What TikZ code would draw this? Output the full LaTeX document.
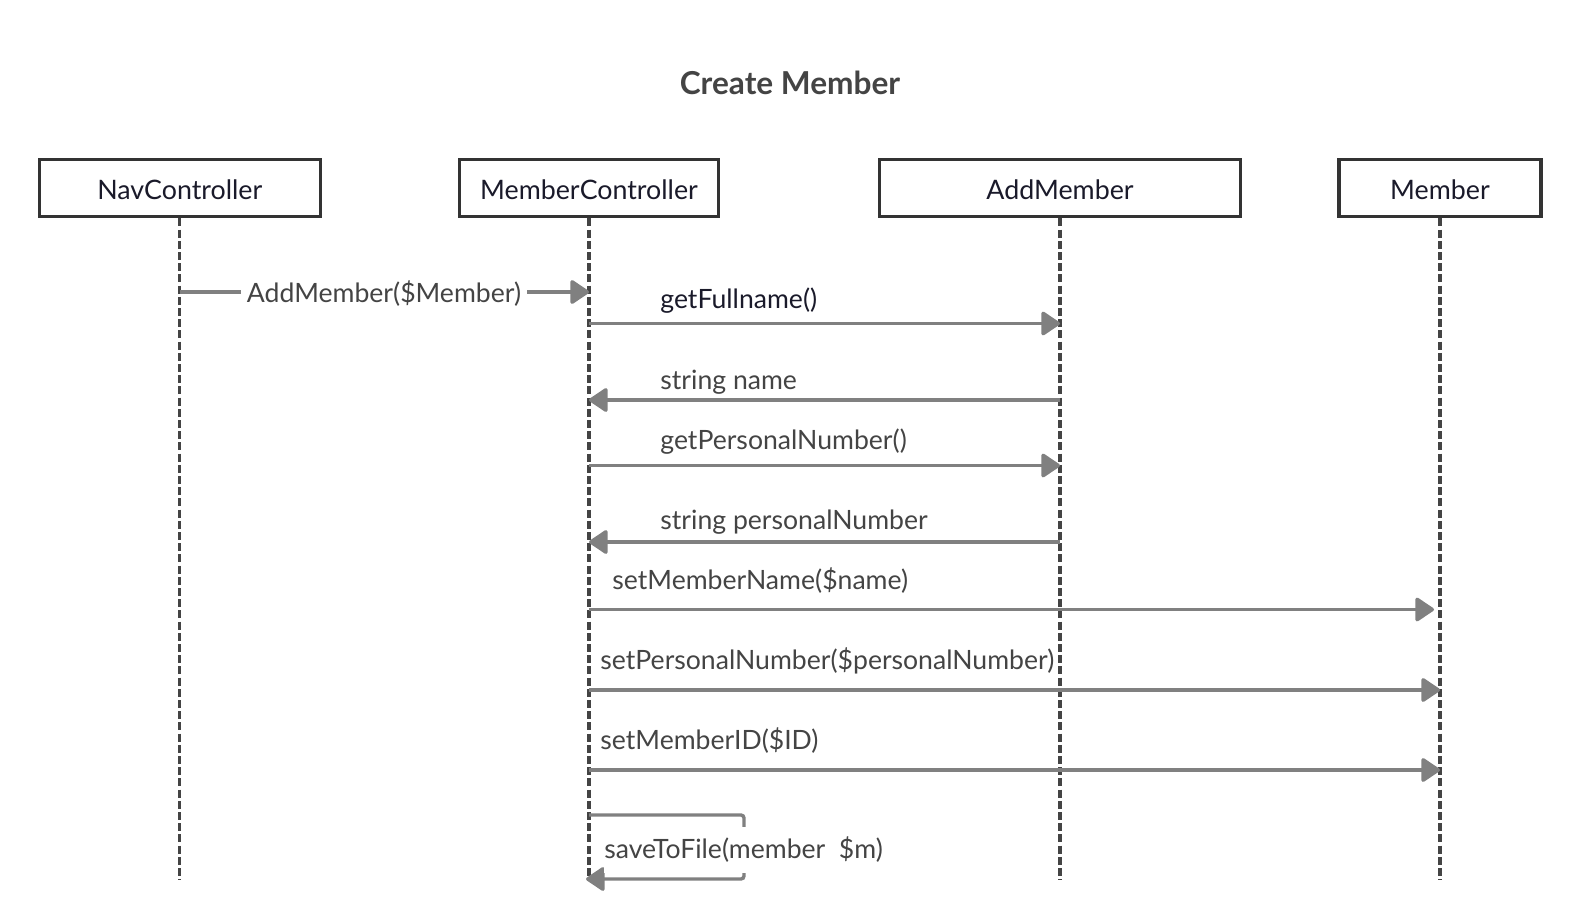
\documentclass[tikz,border=0pt]{standalone}
\usepackage{fontspec}
\setmainfont{Lato}
\usetikzlibrary{arrows.meta}
\definecolor{boxline}{HTML}{333333}
\definecolor{lifeln}{HTML}{444444}
\definecolor{arrowc}{HTML}{808080}
\definecolor{labelc}{HTML}{444444}
\definecolor{namec}{HTML}{1A1A2A}
\tikzset{
  actor/.style={draw=boxline, line width=1.6pt, fill=white, minimum height=28.8pt, inner sep=0pt, text=namec, text height=11.6pt, text depth=0pt, font=\fontsize{13.4}{16}\selectfont},
  life/.style={draw=lifeln, line width=1.6pt, dash pattern=on 4pt off 1.6pt},
  msg/.style={draw=arrowc, line width=1.7pt, -{Triangle[length=10pt,width=13pt,round]}},
  plain/.style={draw=arrowc, line width=1.7pt},
  lbl/.style={text=labelc, font=\fontsize{13.3}{16}\selectfont, inner sep=0pt, anchor=west},
}
\begin{document}
\begin{tikzpicture}[x=0.5pt,y=-0.5pt]
\useasboundingbox (0,0) rectangle (1580,920);
\node[font=\bfseries\fontsize{15.8}{19}\selectfont, text=labelc] (title) at (790,83) {Create Member};
% actors
\node[actor, minimum width=140.5pt] (nav) at (179.8,188) {NavController};
\node[actor, minimum width=129.5pt] (mc) at (589,188) {MemberController};
\node[actor, minimum width=180.4pt] (am) at (1060,188) {AddMember};
\node[actor, minimum width=101pt] (mem) at (1440,188) {Member};
% lifeline ends
\coordinate (navE) at (179.8,880);
\coordinate (mcE) at (589,880);
\coordinate (amE) at (1060,880);
\coordinate (memE) at (1440,880);
\draw[life] (nav.south) -- (navE);
\draw[life] (mc.south) -- (mcE);
\draw[life] (am.south) -- (amE);
\draw[life] (mem.south) -- (memE);
% message 1
\coordinate (n1) at (179.8,292);
\coordinate (m1) at (589,292);
\node[lbl, anchor=center, fill=white, inner xsep=3pt, inner ysep=2pt] (l1) at (384,293.5) {AddMember(\$Member)};
\draw[plain] (n1) -- (n1 -| l1.west);
\draw[msg] (m1 -| l1.east) -- (m1);
% message 2
\coordinate (m2) at (589,323.5);
\coordinate (a2) at (1060,323.5);
\draw[msg] (m2) -- (a2);
\node[lbl, text=namec] (l2) at (660,301) {getFullname()};
% message 3
\coordinate (a3) at (1060,400);
\coordinate (m3) at (589,400);
\draw[msg] (a3) -- (m3);
\node[lbl] (l3) at (660,382) {string name};
% message 4
\coordinate (m4) at (589,465.5);
\coordinate (a4) at (1060,465.5);
\draw[msg] (m4) -- (a4);
\node[lbl] (l4) at (660,442) {getPersonalNumber()};
% message 5
\coordinate (a5) at (1060,542);
\coordinate (m5) at (589,542);
\draw[msg] (a5) -- (m5);
\node[lbl] (l5) at (660,522.5) {string personalNumber};
% message 6
\coordinate (m6) at (589,609.5);
\coordinate (e6) at (1434,609.5);
\draw[msg] (m6) -- (e6);
\node[lbl] (l6) at (612,581) {setMemberName(\$name)};
% message 7
\coordinate (m7) at (589,690);
\coordinate (e7) at (1440,690);
\draw[msg] (m7) -- (e7);
\node[lbl] (l7) at (600,661) {setPersonalNumber(\$personalNumber)};
% message 8
\coordinate (m8) at (589,770);
\coordinate (e8) at (1440,770);
\draw[msg] (m8) -- (e8);
\node[lbl] (l8) at (600,741) {setMemberID(\$ID)};
% self message
\coordinate (s1) at (589,815);
\coordinate (s2) at (744,815);
\coordinate (s3) at (744,879);
\coordinate (s4) at (586,879);
\draw[msg, rounded corners=1.5pt] (s1) -- (s2) -- (s3) -- (s4);
\node[lbl, fill=white, inner ysep=5pt] (l9) at (604,850) {saveToFile(member\ \ \$m)};
\end{tikzpicture}
\end{document}
